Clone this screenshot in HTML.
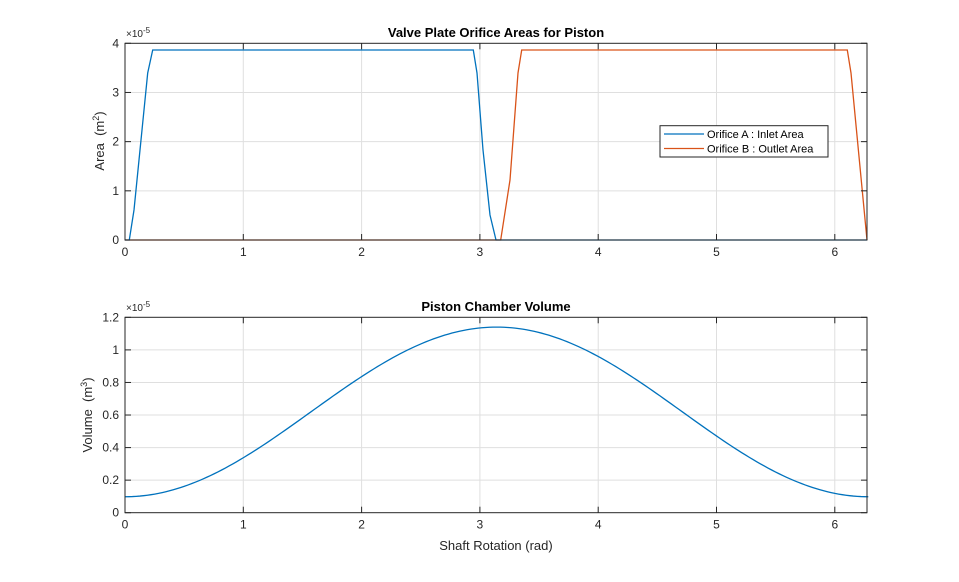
<!DOCTYPE html>
<html><head><meta charset="utf-8"><style>
body{margin:0;background:#fff;}
svg{font-family:"Liberation Sans",sans-serif;}
</style></head><body>
<svg id="s" width="959" height="577" xmlns="http://www.w3.org/2000/svg">
<rect width="959" height="577" fill="#fff"/>
<g id="grid" stroke="#dfdfdf" stroke-width="1"></g>
<polyline fill="none" stroke="#D95319" stroke-width="1.3" points="125,240 500.7,240 510,180 518,73 521.7,50 847.3,50 851,73 867,240"/>
<polyline fill="none" stroke="#0072BD" stroke-width="1.3" points="125,240 129.3,240 134,210 147.7,73 152.7,50 473.3,50 477,73 483,150 490,215 496,240 867,240"/>
<rect x="125" y="43.3" width="742" height="196.7" fill="none" stroke="#262626" stroke-width="1"/>
<path id="bv" fill="none" stroke="#0072BD" stroke-width="1.3"/>
<rect x="125" y="317.3" width="742" height="195.4" fill="none" stroke="#262626" stroke-width="1"/>
<g id="ticks" stroke="#262626" stroke-width="1"></g>
<g id="labels" font-size="12" fill="#262626"></g>
<text x="496" y="37" font-size="13" font-weight="bold" text-anchor="middle" fill="#000">Valve Plate Orifice Areas for Piston</text>
<text x="496" y="311" font-size="13" font-weight="bold" text-anchor="middle" fill="#000">Piston Chamber Volume</text>
<text x="126" y="37" font-size="10" fill="#262626">×10<tspan dy="-4" font-size="8">-5</tspan></text>
<text x="126" y="311" font-size="10" fill="#262626">×10<tspan dy="-4" font-size="8">-5</tspan></text>
<text transform="translate(104,141) rotate(-90)" font-size="13" text-anchor="middle" fill="#262626">Area&#160;&#160;(m<tspan dy="-5" font-size="9">2</tspan><tspan dy="5">)</tspan></text>
<text transform="translate(92,415) rotate(-90)" font-size="13" text-anchor="middle" fill="#262626">Volume&#160;&#160;(m<tspan dy="-5" font-size="9">3</tspan><tspan dy="5">)</tspan></text>
<text x="496" y="550" font-size="13" text-anchor="middle" fill="#262626">Shaft Rotation (rad)</text>
<rect x="660" y="125.7" width="168" height="31.3" fill="#fff" stroke="#262626" stroke-width="1"/>
<line x1="664" y1="134" x2="704" y2="134" stroke="#0072BD" stroke-width="1.3"/>
<line x1="664" y1="148.5" x2="704" y2="148.5" stroke="#D95319" stroke-width="1.3"/>
<text x="707" y="138" font-size="11" fill="#000">Orifice A : Inlet Area</text>
<text x="707" y="152.5" font-size="11" fill="#000">Orifice B : Outlet Area</text>
</svg>
<script>
var ns="http://www.w3.org/2000/svg";
function el(p,t,a,txt){var e=document.createElementNS(ns,t);for(var k in a)e.setAttribute(k,a[k]);if(txt!==undefined)e.textContent=txt;document.getElementById(p).appendChild(e);}
var sx=118.3,x0=125;
[[43.3,240],[317.3,512.7]].forEach(function(r){
 for(var i=1;i<=6;i++){var x=x0+i*sx;el("grid","line",{x1:x,x2:x,y1:r[0],y2:r[1]});el("ticks","line",{x1:x,x2:x,y1:r[1],y2:r[1]-6});el("ticks","line",{x1:x,x2:x,y1:r[0],y2:r[0]+6});}
 for(var i=0;i<=6;i++){el("labels","text",{x:x0+i*sx,y:r[1]+16,"text-anchor":"middle"},""+i);}
});
for(var v=0;v<=4;v++){var y=240-v*49.18;if(v>0&&v<4)el("grid","line",{x1:125,x2:867,y1:y,y2:y});el("ticks","line",{x1:125,x2:131,y1:y,y2:y});el("ticks","line",{x1:867,x2:861,y1:y,y2:y});el("labels","text",{x:119,y:y+4,"text-anchor":"end"},""+v);}
var vl=["0","0.2","0.4","0.6","0.8","1","1.2"];
for(var v=0;v<=6;v++){var y=512.7-v*0.2*162.8;if(v>0&&v<6)el("grid","line",{x1:125,x2:867,y1:y,y2:y});el("ticks","line",{x1:125,x2:131,y1:y,y2:y});el("ticks","line",{x1:867,x2:861,y1:y,y2:y});el("labels","text",{x:119,y:y+4,"text-anchor":"end"},vl[v]);}
var d="";for(var i=0;i<=200;i++){var t=i/200*2*Math.PI;var V=0.619-0.521*Math.cos(t);d+=(i?"L":"M")+(x0+t*sx).toFixed(2)+","+(512.7-V*162.8).toFixed(2);}
document.getElementById("bv").setAttribute("d",d);
</script>
</body></html>
